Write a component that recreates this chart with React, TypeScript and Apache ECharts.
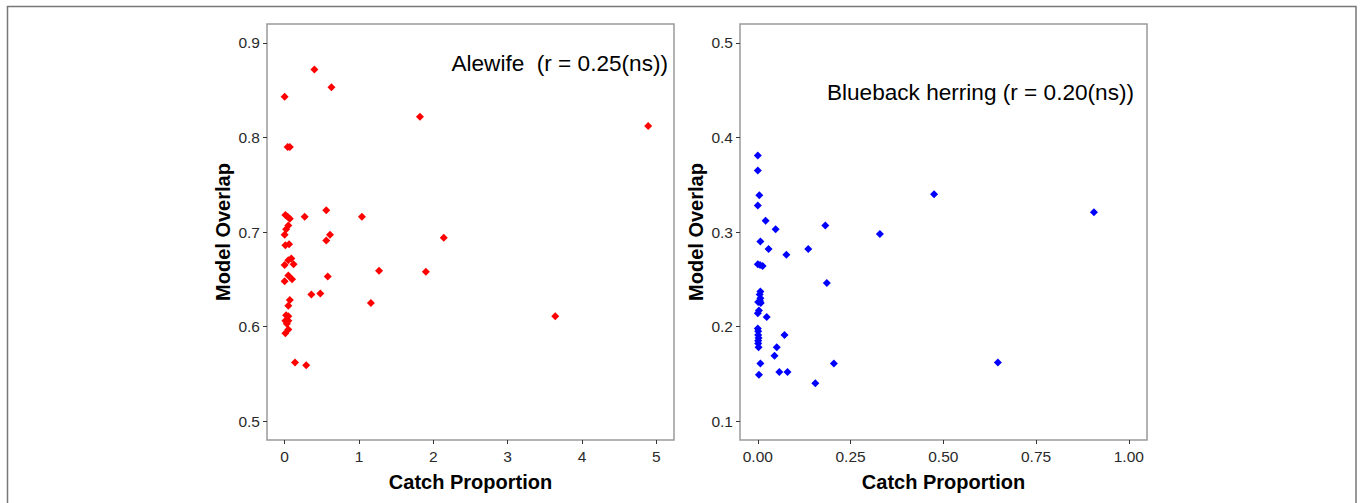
import React, { useEffect, useRef } from "react";
import * as echarts from "echarts";

const alewifeData: number[][] = [
  [0.40, 0.872], [0.63, 0.853], [0.00, 0.843], [1.82, 0.822], [4.89, 0.812],
  [0.04, 0.790], [0.07, 0.790], [0.56, 0.723], [0.01, 0.718], [0.04, 0.716],
  [0.07, 0.714], [0.27, 0.716], [1.04, 0.716], [0.05, 0.707], [0.02, 0.703],
  [0.00, 0.697], [0.61, 0.697], [0.56, 0.691], [2.14, 0.694], [0.01, 0.686],
  [0.06, 0.687], [0.09, 0.672], [0.05, 0.670], [0.12, 0.666], [0.00, 0.665],
  [1.27, 0.659], [1.90, 0.658], [0.05, 0.654], [0.58, 0.653], [0.10, 0.650],
  [0.00, 0.648], [0.36, 0.634], [0.48, 0.635], [0.07, 0.628], [1.16, 0.625],
  [0.05, 0.622], [0.02, 0.612], [0.05, 0.611], [3.64, 0.611], [0.01, 0.606],
  [0.05, 0.606], [0.03, 0.603], [0.05, 0.597], [0.01, 0.593], [0.14, 0.562],
  [0.29, 0.559],
];

const bluebackData: number[][] = [
  [0.000, 0.381], [0.000, 0.365], [0.004, 0.339], [0.000, 0.328], [0.475, 0.340],
  [0.906, 0.321], [0.021, 0.312], [0.048, 0.303], [0.182, 0.307], [0.329, 0.298],
  [0.007, 0.290], [0.029, 0.282], [0.136, 0.282], [0.077, 0.276], [0.000, 0.266],
  [0.006, 0.265], [0.013, 0.264], [0.186, 0.246], [0.007, 0.237], [0.005, 0.234],
  [0.007, 0.230], [0.001, 0.226], [0.006, 0.227], [0.008, 0.225], [0.003, 0.217],
  [0.000, 0.214], [0.024, 0.210], [0.000, 0.198], [0.001, 0.195], [0.001, 0.191],
  [0.002, 0.188], [0.001, 0.185], [0.001, 0.182], [0.002, 0.178], [0.072, 0.191],
  [0.051, 0.178], [0.045, 0.169], [0.007, 0.161], [0.205, 0.161], [0.647, 0.162],
  [0.058, 0.152], [0.080, 0.152], [0.003, 0.149], [0.155, 0.140],
];

const leftXTicks = [0, 1, 2, 3, 4, 5];
const leftYTicks = [0.5, 0.6, 0.7, 0.8, 0.9];
const rightXTicks = [0, 0.25, 0.5, 0.75, 1.0];
const rightYTicks = [0.1, 0.2, 0.3, 0.4, 0.5];

const leftTitle = "Alewife  (r = 0.25(ns))";
const rightTitle = "Blueback herring (r = 0.20(ns))";
const xName = "Catch Proportion";
const yName = "Model Overlap";

const FONT = "Liberation Sans, Arial, sans-serif";

function makeX(gridIndex: number, min: number, max: number, ticks: number[], digits: number) {
  return {
    type: "value",
    gridIndex,
    min,
    max,
    name: xName,
    nameLocation: "middle",
    nameGap: 32,
    nameTextStyle: { fontFamily: FONT, fontSize: 20, fontWeight: "bold", color: "#000" },
    axisLine: { show: false, onZero: false },
    axisTick: { show: true, customValues: ticks, length: 4, lineStyle: { color: "#333", width: 1 } },
    axisLabel: {
      customValues: ticks,
      margin: 8,
      fontFamily: FONT,
      fontSize: 15.5,
      color: "#2a2a2a",
      formatter: (v: number) => (digits === 0 ? String(Math.round(v)) : v.toFixed(digits)),
    },
    splitLine: { show: false },
  };
}

function makeY(gridIndex: number, min: number, max: number, ticks: number[]) {
  return {
    type: "value",
    gridIndex,
    min,
    max,
    name: yName,
    nameLocation: "middle",
    nameGap: 34,
    nameTextStyle: { fontFamily: FONT, fontSize: 20, fontWeight: "bold", color: "#000" },
    axisLine: { show: false, onZero: false },
    axisTick: { show: true, customValues: ticks, length: 4, lineStyle: { color: "#333", width: 1 } },
    axisLabel: {
      customValues: ticks,
      margin: 7,
      fontFamily: FONT,
      fontSize: 15.5,
      color: "#2a2a2a",
      formatter: (v: number) => v.toFixed(1),
    },
    splitLine: { show: false },
  };
}

export default function App() {
  const ref = useRef<HTMLDivElement>(null);
  useEffect(() => {
    if (!ref.current) return;
    const chart = echarts.init(ref.current, null, { renderer: "svg" });
    chart.setOption({
      animation: false,
      backgroundColor: "#fff",
      grid: [
        { left: 267, top: 24, width: 407, height: 416, show: true, borderColor: "#9a9a9a", borderWidth: 1.5, backgroundColor: "transparent" },
        { left: 740, top: 24, width: 407, height: 416, show: true, borderColor: "#9a9a9a", borderWidth: 1.5, backgroundColor: "transparent" },
      ],
      xAxis: [makeX(0, -0.237, 5.237, leftXTicks, 0), makeX(1, -0.048, 1.049, rightXTicks, 2)],
      yAxis: [makeY(0, 0.48, 0.92, leftYTicks), makeY(1, 0.08, 0.52, rightYTicks)],
      series: [
        {
          type: "scatter",
          xAxisIndex: 0,
          yAxisIndex: 0,
          data: alewifeData,
          symbol: "diamond",
          symbolSize: 8,
          itemStyle: { color: "#ff0000", opacity: 1 },
        },
        {
          type: "scatter",
          xAxisIndex: 1,
          yAxisIndex: 1,
          data: bluebackData,
          symbol: "diamond",
          symbolSize: 8,
          itemStyle: { color: "#0000ff", opacity: 1 },
        },
      ],
      graphic: [
        {
          type: "rect",
          shape: { x: 7.5, y: 6.5, width: 1348.5, height: 520 },
          style: { fill: "none", stroke: "#777", lineWidth: 1.5 },
          silent: true,
        },
        {
          type: "text",
          style: {
            text: leftTitle,
            x: 668,
            y: 63,
            align: "right",
            verticalAlign: "middle",
            fontFamily: FONT,
            fontSize: 22.6,
            fill: "#000",
          },
        },
        {
          type: "text",
          style: {
            text: rightTitle,
            x: 1134,
            y: 92,
            align: "right",
            verticalAlign: "middle",
            fontFamily: FONT,
            fontSize: 22.6,
            fill: "#000",
          },
        },
      ],
    });
    return () => chart.dispose();
  }, []);
  return (
    <div
      ref={ref}
      style={{ position: "fixed", left: 0, top: 0, width: 1362, height: 503, background: "#fff" }}
    />
  );
}
